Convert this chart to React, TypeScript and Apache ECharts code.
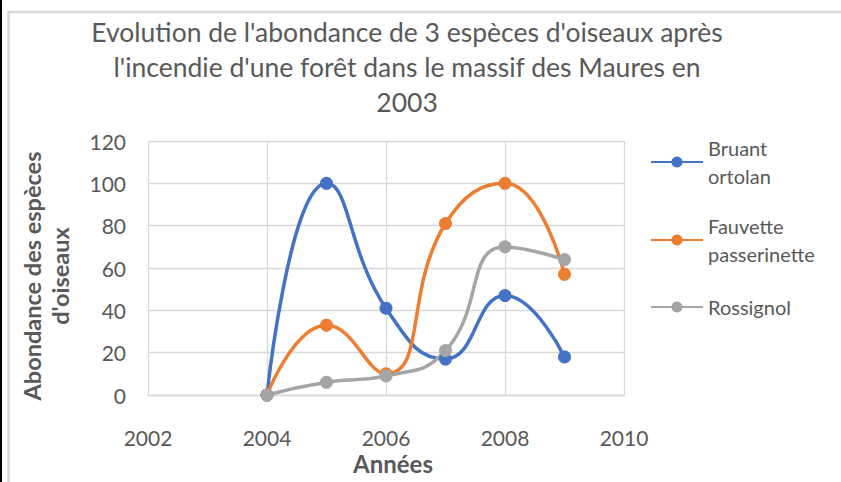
import React, { useEffect, useRef } from 'react';
import * as echarts from 'echarts';

const years = [2004, 2005, 2006, 2007, 2008, 2009];
const bruant = [0, 100, 41, 17, 47, 18];
const fauvette = [0, 33, 10, 81, 100, 57];
const rossignol = [0, 6, 9, 21, 70, 64];
const seriesNames = ['Bruant ortolan', 'Fauvette passerinette', 'Rossignol'];
const legendLabels = ['Bruant\nortolan', 'Fauvette\npasserinette', 'Rossignol'];
const colors = ['#4472C4', '#ED7D31', '#A5A5A5'];
const titleText =
  "Evolution de l'abondance de 3 espèces d'oiseaux après\nl'incendie d'une forêt dans le massif des Maures en\n2003";
const xName = 'Années';
const yName = "Abondance des espèces\nd'oiseaux";

const FONT = 'Lato, "Noto Sans", sans-serif';
const GREY_TEXT = '#595959';
const GRID = '#d9d9d9';

export default function App() {
  const ref = useRef<HTMLDivElement>(null);
  useEffect(() => {
    if (!ref.current) return;
    const chart = echarts.init(ref.current, null, { renderer: 'svg' });
    const allValues = [bruant, fauvette, rossignol];
    const legendTops = [138, 216, 293];
    chart.setOption({
      animation: false,
      backgroundColor: '#ffffff',
      textStyle: { fontFamily: FONT },
      graphic: [
        { type: 'rect', silent: true, z: -10, shape: { x: 0, y: 0, width: 2, height: 482 }, style: { fill: '#000' } },
        {
          type: 'rect', silent: true, z: -10,
          shape: { x: 8.5, y: 12, width: 1000, height: 1000 },
          style: { fill: 'none', stroke: GRID, lineWidth: 2.5 },
        },
      ],
      title: {
        text: titleText,
        left: 407,
        top: 14,
        textAlign: 'center',
        padding: 0,
        textStyle: { fontSize: 26.5, fontWeight: 'normal', color: GREY_TEXT, lineHeight: 35, fontFamily: FONT },
      },
      grid: { left: 148, right: 217, top: 141, bottom: 87, containLabel: false },
      xAxis: {
        type: 'value',
        min: 2002,
        max: 2010,
        interval: 2,
        axisLine: { show: true, lineStyle: { color: GRID, width: 1.3 } },
        axisTick: { show: false },
        splitLine: { show: true, lineStyle: { color: GRID, width: 1.3 } },
        axisLabel: {
          fontSize: 21, lineHeight: 22, color: GREY_TEXT, margin: 31, fontFamily: FONT,
          formatter: (v: number) => String(v),
        },
        name: xName,
        nameLocation: 'middle',
        nameGap: 56,
        nameMoveOverlap: false,
        nameTextStyle: { fontSize: 24, lineHeight: 25, fontWeight: 'bold', color: GREY_TEXT, padding: [0, 0, 0, 14], fontFamily: FONT },
      },
      yAxis: {
        type: 'value',
        min: 0,
        max: 120,
        interval: 20,
        axisLine: { show: false },
        axisTick: { show: false },
        splitLine: { show: true, lineStyle: { color: GRID, width: 1.3 } },
        axisLabel: { fontSize: 21, color: GREY_TEXT, margin: 22, fontFamily: FONT },
        name: yName,
        nameLocation: 'middle',
        nameRotate: 90,
        nameGap: 74,
        nameMoveOverlap: false,
        nameTextStyle: { fontSize: 23.5, fontWeight: 'bold', color: GREY_TEXT, lineHeight: 28, padding: [0, 16, 0, 0], fontFamily: FONT },
      },
      legend: seriesNames.map((n, i) => ({
        data: [n],
        orient: 'vertical',
        left: 650,
        top: legendTops[i],
        padding: 0,
        itemWidth: 52,
        itemHeight: 14,
        itemGap: 0,
        selectedMode: false,
        formatter: () => legendLabels[i],
        textStyle: {
          fontSize: 20,
          color: GREY_TEXT,
          fontFamily: FONT,
          lineHeight: 28,
          padding: i < 2 ? [0, 0, -28, 0] : 0,
        },
      })),
      series: seriesNames.map((n, i) => ({
        name: n,
        type: 'line',
        smooth: 0.5,
        data: years.map((y, j) => [y, allValues[i][j]]),
        symbol: 'circle',
        symbolSize: 13,
        color: colors[i],
        lineStyle: { width: 3.5, color: colors[i] },
        itemStyle: { color: colors[i] },
      })),
    });
    return () => chart.dispose();
  }, []);
  return (
    <div
      ref={ref}
      style={{ position: 'fixed', left: 0, top: 0, width: 841, height: 482, background: '#fff' }}
    />
  );
}
